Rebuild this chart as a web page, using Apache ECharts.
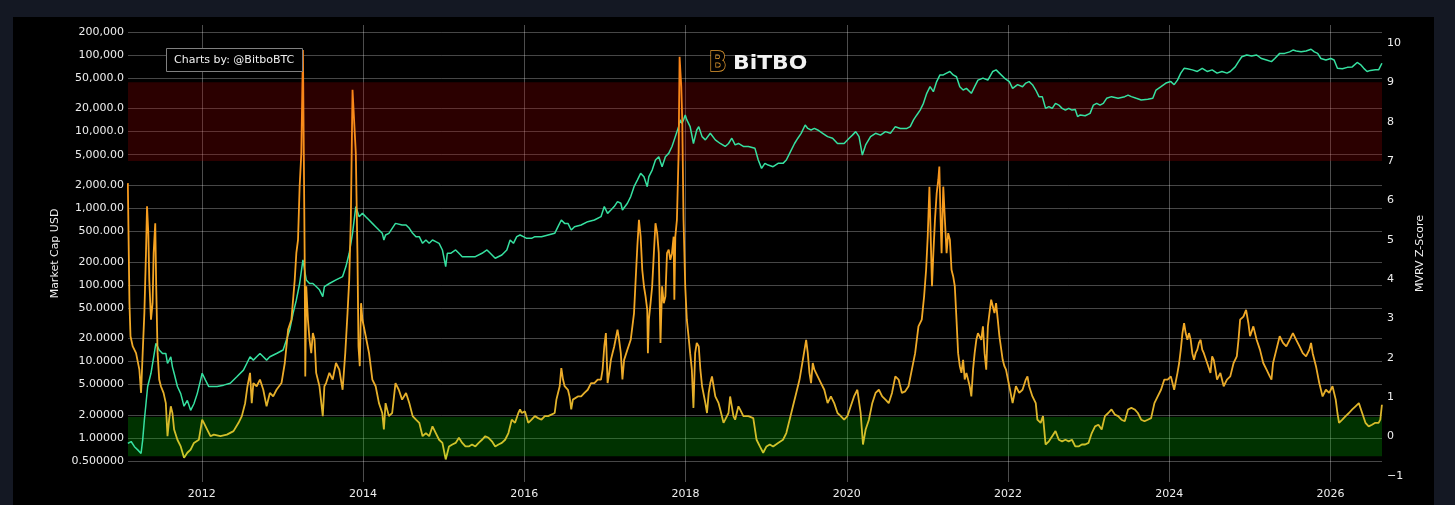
<!DOCTYPE html>
<html><head><meta charset="utf-8">
<script src="https://cdn.jsdelivr.net/npm/echarts@6/dist/echarts.min.js"></script>
<style>
html,body{margin:0;padding:0;background:#141823;width:1455px;height:505px;overflow:hidden}
#paper{position:absolute;left:13px;top:17px;width:1421px;height:488px;background:#000}
</style>
</head><body><div id="paper"></div>
<script>
// ---- axis ticks ----
const yearTicks = [2012, 2014, 2016, 2018, 2020, 2022, 2024, 2026];
const priceTicks = [0.5, 1, 2, 5, 10, 20, 50, 100, 200, 500, 1000, 2000, 5000, 10000, 20000, 50000, 100000, 200000];
const zTicks = [-1, 0, 1, 2, 3, 4, 5, 6, 7, 8, 9, 10];
// ---- zones (MVRV Z-Score) ----
const redZone = [7, 9];
const greenZone = [-0.5, 0.5];

// ---- BTC price, USD (decimal year, value) ----
const priceUsd = [
[2011.082,0.85],[2011.123,0.90],[2011.164,0.77],[2011.205,0.70],[2011.246,0.63],[2011.266,0.94],[2011.287,1.72],[2011.307,2.8],[2011.328,4.7],[2011.369,7.0],[2011.410,12.7],[2011.430,17.2],[2011.451,15.6],[2011.471,14.1],[2011.512,12.7],[2011.553,12.7],[2011.574,9.4],[2011.594,9.4],[2011.615,11.5],[2011.635,8.5],[2011.656,7.0],[2011.697,4.7],[2011.738,3.8],[2011.779,2.6],[2011.820,3.1],[2011.861,2.3],[2011.902,2.8],[2011.943,3.8],[2011.984,5.7],[2012.004,7.0],[2012.045,5.7],[2012.086,4.7],[2012.127,4.7],[2012.189,4.7],[2012.270,4.9],[2012.352,5.2],[2012.434,6.3],[2012.516,7.7],[2012.557,9.4],[2012.598,11.5],[2012.639,10.4],[2012.680,11.5],[2012.721,12.7],[2012.762,11.5],[2012.803,10.4],[2012.844,11.5],[2012.926,12.7],[2013.008,14.1],[2013.049,19.0],[2013.090,25.7],[2013.131,42],[2013.172,63],[2013.213,104],[2013.254,211],[2013.295,116],[2013.336,104],[2013.377,104],[2013.418,95],[2013.459,86],[2013.500,70],[2013.520,95],[2013.582,104],[2013.664,116],[2013.746,128],[2013.787,173],[2013.828,258],[2013.869,470],[2013.910,1050],[2013.951,775],[2013.992,857],[2014.033,775],[2014.074,701],[2014.115,634],[2014.156,574],[2014.197,519],[2014.238,470],[2014.258,385],[2014.279,447],[2014.320,470],[2014.361,546],[2014.402,634],[2014.484,604],
[2014.533,604],[2014.574,546],[2014.615,470],[2014.656,425],[2014.697,425],[2014.738,348],[2014.779,385],[2014.820,348],[2014.861,385],[2014.902,366],[2014.943,348],[2014.984,285],[2015.025,173],[2015.045,258],[2015.086,258],[2015.148,285],[2015.189,258],[2015.230,233],[2015.311,233],[2015.393,233],[2015.475,258],[2015.537,285],[2015.578,258],[2015.639,222],[2015.721,245],[2015.783,285],[2015.824,385],[2015.865,348],[2015.906,425],[2015.947,447],[2015.988,425],[2016.029,404],[2016.090,404],[2016.131,425],[2016.213,425],[2016.295,447],[2016.377,470],[2016.418,574],[2016.459,701],[2016.500,634],[2016.541,634],[2016.582,519],[2016.623,574],[2016.705,604],[2016.787,667],[2016.869,701],[2016.951,775],[2016.992,1050],[2017.033,857],[2017.074,948],[2017.115,1050],[2017.156,1220],[2017.197,1160],[2017.217,948],[2017.279,1160],[2017.320,1420],[2017.361,1910],[2017.402,2330],[2017.443,2850],[2017.484,2580],[2017.525,1910],[2017.545,2580],[2017.586,3150],[2017.627,4260],[2017.668,4700],[2017.709,3480],[2017.750,4700],[2017.791,5200],[2017.832,6400],[2017.873,8600],[2017.914,11600],[2017.934,14200],[2017.955,12800],[2017.975,14200],[2017.996,16500],[2018.016,14200],[2018.057,11600],[2018.098,7000],[2018.139,10500],
[2018.164,11600],[2018.205,8600],[2018.246,7800],[2018.307,9500],[2018.369,7800],[2018.430,7000],[2018.492,6400],[2018.533,7000],[2018.574,8200],[2018.615,6700],[2018.656,7000],[2018.717,6400],[2018.779,6400],[2018.861,6050],[2018.902,4260],[2018.943,3310],[2018.984,3850],[2019.025,3660],[2019.086,3480],[2019.148,3850],[2019.209,3850],[2019.250,4260],[2019.291,5200],[2019.352,7000],[2019.393,8200],[2019.434,9500],[2019.484,12200],[2019.516,11000],[2019.557,10500],[2019.598,11000],[2019.639,10500],[2019.701,9500],[2019.762,8600],[2019.824,8200],[2019.885,7000],[2019.967,7000],[2020.029,8200],[2020.070,9000],[2020.111,10000],[2020.152,8600],[2020.193,4950],[2020.234,6700],[2020.295,8600],[2020.357,9500],[2020.418,9000],[2020.480,10000],[2020.541,9500],[2020.602,11600],[2020.664,11000],[2020.746,11000],[2020.787,11600],[2020.828,14200],[2020.869,16500],[2020.910,19100],[2020.951,23400],[2020.992,31600],[2021.033,38600],[2021.074,33200],[2021.115,45000],[2021.156,55000],[2021.197,55000],[2021.238,58000],[2021.279,61000],[2021.320,55000],[2021.361,52000],[2021.402,38600],[2021.443,34900],[2021.484,36700],[2021.545,31600],[2021.586,38600],[2021.627,47000],[2021.689,50000],[2021.750,47000],[2021.811,61000],[2021.852,64000],[2021.893,58000],[2021.955,50000],[2022.016,45000],[2022.057,36700],[2022.119,41000],[2022.180,38600],
[2022.221,43000],[2022.262,45000],[2022.303,41000],[2022.344,34900],[2022.384,28600],[2022.425,28600],[2022.466,20100],[2022.507,21200],[2022.548,20100],[2022.589,23400],[2022.630,22200],[2022.671,20100],[2022.712,19100],[2022.753,20100],[2022.793,19100],[2022.834,19500],[2022.863,15700],[2022.896,16500],[2022.957,16100],[2023.018,17300],[2023.059,22200],[2023.100,23400],[2023.141,22200],[2023.182,23400],[2023.223,27200],[2023.284,28600],[2023.366,27200],[2023.448,28600],[2023.489,30000],[2023.530,28600],[2023.591,27200],[2023.652,25900],[2023.734,26400],[2023.796,27200],[2023.836,34900],[2023.898,38600],[2023.959,43000],[2024.020,45000],[2024.061,41000],[2024.102,47000],[2024.143,58000],[2024.184,67000],[2024.225,66000],[2024.286,64000],[2024.348,61000],[2024.409,67000],[2024.470,61000],[2024.532,64000],[2024.593,58000],[2024.654,61000],[2024.716,58000],[2024.757,61000],[2024.818,70000],[2024.859,82000],[2024.900,95000],[2024.961,100000],[2025.022,97000],[2025.084,100000],[2025.145,90000],[2025.207,86000],[2025.268,82000],[2025.309,90000],[2025.370,105000],[2025.431,105000],[2025.493,110000],[2025.534,116000],[2025.575,113000],[2025.636,110000],[2025.697,113000],[2025.759,119000],[2025.800,110000],[2025.841,105000],[2025.881,90000],[2025.943,86000],[2026.004,90000],[2026.045,86000],[2026.086,67000],[2026.147,66000],[2026.209,69000],[2026.270,70000],[2026.331,80000],[2026.372,75000],[2026.413,67000],[2026.454,61000],[2026.495,63000],[2026.556,64000],[2026.597,64000],[2026.638,78000]
];

// ---- MVRV Z-Score (decimal year, value) ----
const mvrvZ = [
[2011.082,6.44],[2011.102,3.39],[2011.115,2.55],[2011.143,2.29],[2011.184,2.12],[2011.225,1.70],[2011.246,1.11],[2011.266,2.12],[2011.287,3.14],[2011.307,4.66],[2011.320,5.85],[2011.336,5.17],[2011.348,3.98],[2011.369,2.97],[2011.389,3.39],[2011.402,4.66],[2011.422,5.42],[2011.434,3.82],[2011.451,2.12],[2011.471,1.45],[2011.492,1.28],[2011.525,1.11],[2011.553,0.85],[2011.574,0.01],[2011.594,0.43],[2011.615,0.77],[2011.635,0.60],[2011.656,0.18],[2011.697,-0.08],[2011.738,-0.25],[2011.779,-0.54],[2011.820,-0.41],[2011.861,-0.33],[2011.902,-0.16],[2011.963,-0.08],[2012.004,0.43],[2012.025,0.35],[2012.066,0.18],[2012.107,0.01],[2012.148,0.05],[2012.230,0.01],[2012.311,0.05],[2012.393,0.14],[2012.455,0.35],[2012.496,0.52],[2012.537,0.85],[2012.566,1.28],[2012.598,1.62],[2012.619,0.85],[2012.639,1.36],[2012.680,1.28],[2012.721,1.45],[2012.762,1.19],[2012.803,0.77],[2012.844,1.11],[2012.885,1.02],[2012.926,1.19],[2012.988,1.36],[2013.029,1.87],[2013.070,2.72],[2013.111,2.97],[2013.152,3.98],[2013.172,4.66],[2013.193,5.00],[2013.213,6.35],[2013.234,7.20],[2013.254,9.82],[2013.275,4.66],[2013.283,1.53],[2013.295,3.82],[2013.316,2.97],[2013.336,2.46],[2013.357,2.12],[2013.377,2.63],[2013.398,2.46],[2013.418,1.62],[2013.459,1.28],[2013.500,0.52],[2013.520,1.28],[2013.541,1.36],[2013.582,1.62],[2013.623,1.45],[2013.664,1.87],[2013.705,1.70],[2013.746,1.19],[2013.779,2.12],[2013.807,3.14],[2013.828,3.98],[2013.848,5.51],[2013.869,8.81],[2013.889,8.85],[2013.910,7.20],[2013.930,4.66],[2013.943,2.29],[2013.959,1.79],[2013.975,3.39],[2013.992,2.97],[2014.033,2.55],[2014.074,2.12],[2014.115,1.45],[2014.156,1.28],[2014.197,0.85],[2014.238,0.60],[2014.258,0.18],[2014.279,0.85],[2014.320,0.52],[2014.361,0.60],[2014.402,1.36],[2014.443,1.19],[2014.484,0.94],
[2014.533,1.11],[2014.574,0.85],[2014.615,0.52],[2014.656,0.43],[2014.697,0.35],[2014.738,0.01],[2014.779,0.09],[2014.820,0.01],[2014.861,0.26],[2014.902,0.09],[2014.943,-0.08],[2014.984,-0.16],[2015.025,-0.58],[2015.066,-0.25],[2015.107,-0.20],[2015.148,-0.16],[2015.189,-0.03],[2015.230,-0.16],[2015.270,-0.25],[2015.311,-0.25],[2015.352,-0.20],[2015.393,-0.25],[2015.434,-0.16],[2015.475,-0.08],[2015.516,0.01],[2015.557,-0.03],[2015.598,-0.12],[2015.639,-0.25],[2015.680,-0.20],[2015.721,-0.16],[2015.762,-0.08],[2015.803,0.09],[2015.844,0.43],[2015.885,0.35],[2015.926,0.60],[2015.947,0.69],[2015.967,0.60],[2016.008,0.64],[2016.049,0.35],[2016.090,0.43],[2016.131,0.52],[2016.172,0.47],[2016.213,0.43],[2016.254,0.52],[2016.295,0.52],[2016.336,0.56],[2016.377,0.60],[2016.398,0.94],[2016.418,1.11],[2016.439,1.28],[2016.459,1.74],[2016.480,1.45],[2016.500,1.28],[2016.541,1.19],[2016.561,1.02],[2016.582,0.69],[2016.602,0.94],[2016.623,0.94],[2016.664,1.02],[2016.705,1.02],[2016.746,1.11],[2016.787,1.19],[2016.828,1.36],[2016.869,1.36],[2016.910,1.45],[2016.951,1.45],[2016.971,1.70],[2016.992,2.29],[2017.012,2.63],[2017.033,1.36],[2017.053,1.62],[2017.074,1.95],[2017.094,2.12],[2017.115,2.29],[2017.156,2.72],[2017.176,2.46],[2017.197,2.12],[2017.217,1.45],[2017.238,1.95],[2017.279,2.21],[2017.320,2.46],[2017.361,3.14],[2017.381,3.98],[2017.402,4.83],[2017.422,5.51],[2017.443,5.08],[2017.463,4.24],[2017.484,3.82],[2017.504,3.56],[2017.525,3.22],[2017.533,2.12],[2017.545,2.97],[2017.566,3.39],[2017.586,3.82],[2017.607,4.66],[2017.627,5.42],[2017.648,5.17],[2017.668,4.66],[2017.689,2.38],[2017.709,3.82],[2017.730,3.39],[2017.750,3.56],[2017.770,4.66],[2017.791,4.75],[2017.811,4.49],[2017.832,4.66],[2017.852,5.08],[2017.861,3.48],[2017.873,5.08],[2017.893,5.51],[2017.914,7.20],[2017.926,9.65],[2017.947,8.89],[2017.959,8.05],[2017.975,5.51],[2017.996,3.82],[2018.016,2.97],[2018.037,2.55],[2018.057,2.12],[2018.078,1.70],[2018.098,0.73],[2018.119,2.12],[2018.139,2.38],
[2018.164,2.29],[2018.184,1.70],[2018.205,1.28],[2018.246,0.85],[2018.266,0.60],[2018.287,1.11],[2018.307,1.36],[2018.328,1.53],[2018.348,1.28],[2018.369,1.02],[2018.410,0.85],[2018.430,0.69],[2018.471,0.35],[2018.492,0.43],[2018.533,0.60],[2018.553,1.02],[2018.574,0.77],[2018.594,0.52],[2018.615,0.43],[2018.635,0.60],[2018.656,0.77],[2018.676,0.69],[2018.717,0.52],[2018.779,0.52],[2018.840,0.47],[2018.861,0.43],[2018.881,-0.08],[2018.922,-0.25],[2018.963,-0.41],[2019.004,-0.25],[2019.045,-0.20],[2019.086,-0.25],[2019.148,-0.16],[2019.209,-0.08],[2019.250,0.09],[2019.291,0.43],[2019.332,0.77],[2019.373,1.11],[2019.414,1.45],[2019.455,1.95],[2019.496,2.46],[2019.516,2.12],[2019.537,1.62],[2019.557,1.36],[2019.578,1.87],[2019.598,1.70],[2019.639,1.53],[2019.680,1.36],[2019.721,1.19],[2019.762,0.85],[2019.803,1.02],[2019.844,0.85],[2019.885,0.60],[2019.926,0.52],[2019.967,0.43],[2020.008,0.52],[2020.049,0.77],[2020.090,1.02],[2020.131,1.19],[2020.172,0.60],[2020.201,-0.20],[2020.234,0.18],[2020.275,0.43],[2020.316,0.85],[2020.357,1.11],[2020.398,1.19],[2020.439,1.02],[2020.480,0.94],[2020.520,0.85],[2020.561,1.11],[2020.602,1.53],[2020.643,1.45],[2020.684,1.11],[2020.725,1.15],[2020.766,1.28],[2020.807,1.70],[2020.848,2.12],[2020.889,2.80],[2020.930,2.97],[2020.959,3.56],[2020.984,4.24],[2021.004,5.08],[2021.025,6.35],[2021.041,5.08],[2021.057,3.82],[2021.074,4.66],[2021.094,5.51],[2021.115,6.18],[2021.135,6.52],[2021.148,6.86],[2021.164,5.51],[2021.176,4.66],[2021.197,6.35],[2021.217,5.51],[2021.238,4.66],[2021.258,5.17],[2021.279,5.00],[2021.299,4.24],[2021.320,4.07],[2021.340,3.82],[2021.361,2.97],[2021.381,2.12],[2021.402,1.79],[2021.422,1.62],[2021.443,1.95],[2021.463,1.45],[2021.484,1.62],[2021.525,1.28],[2021.545,1.02],[2021.566,1.70],[2021.586,2.12],[2021.607,2.46],[2021.627,2.63],[2021.668,2.46],[2021.689,2.80],[2021.709,2.12],[2021.730,1.70],[2021.750,2.80],[2021.770,3.14],[2021.791,3.48],[2021.811,3.31],[2021.832,3.14],[2021.852,3.39],[2021.873,2.97],[2021.893,2.55],[2021.934,1.95],[2021.955,1.79],[2021.975,1.70],[2022.016,1.28],[2022.057,0.85],[2022.098,1.28],[2022.139,1.11],[2022.180,1.19],
[2022.221,1.45],[2022.241,1.53],[2022.262,1.28],[2022.303,1.02],[2022.344,0.85],[2022.364,0.43],[2022.405,0.35],[2022.434,0.52],[2022.466,-0.20],[2022.507,-0.12],[2022.548,0.01],[2022.589,0.14],[2022.630,-0.08],[2022.671,-0.12],[2022.712,-0.08],[2022.753,-0.12],[2022.793,-0.08],[2022.834,-0.25],[2022.875,-0.25],[2022.916,-0.20],[2022.957,-0.20],[2022.998,-0.16],[2023.039,0.09],[2023.080,0.26],[2023.121,0.30],[2023.162,0.18],[2023.202,0.52],[2023.243,0.60],[2023.284,0.69],[2023.325,0.56],[2023.366,0.52],[2023.407,0.43],[2023.448,0.39],[2023.489,0.69],[2023.530,0.73],[2023.571,0.69],[2023.611,0.60],[2023.652,0.43],[2023.693,0.39],[2023.734,0.43],[2023.775,0.47],[2023.816,0.85],[2023.857,1.02],[2023.898,1.19],[2023.939,1.45],[2023.980,1.45],[2024.020,1.53],[2024.061,1.19],[2024.102,1.62],[2024.123,1.87],[2024.143,2.21],[2024.164,2.63],[2024.184,2.88],[2024.204,2.63],[2024.225,2.46],[2024.245,2.63],[2024.266,2.46],[2024.286,2.12],[2024.307,1.95],[2024.327,2.12],[2024.348,2.21],[2024.368,2.38],[2024.389,2.46],[2024.409,2.21],[2024.429,2.12],[2024.470,1.87],[2024.511,1.62],[2024.532,2.04],[2024.552,1.95],[2024.573,1.70],[2024.593,1.45],[2024.634,1.62],[2024.675,1.28],[2024.716,1.45],[2024.757,1.53],[2024.798,1.87],[2024.838,2.04],[2024.859,2.46],[2024.879,2.97],[2024.920,3.05],[2024.953,3.22],[2024.982,2.88],[2025.002,2.55],[2025.043,2.80],[2025.084,2.46],[2025.125,2.21],[2025.166,1.87],[2025.207,1.70],[2025.247,1.53],[2025.268,1.45],[2025.288,1.87],[2025.329,2.21],[2025.370,2.55],[2025.411,2.38],[2025.452,2.29],[2025.493,2.46],[2025.534,2.63],[2025.575,2.46],[2025.616,2.29],[2025.656,2.12],[2025.697,2.04],[2025.738,2.21],[2025.759,2.38],[2025.779,2.12],[2025.820,1.79],[2025.861,1.36],[2025.902,1.02],[2025.943,1.19],[2025.984,1.11],[2026.025,1.28],[2026.065,0.94],[2026.086,0.60],[2026.106,0.35],[2026.147,0.43],[2026.188,0.52],[2026.229,0.60],[2026.270,0.69],[2026.311,0.77],[2026.352,0.85],[2026.393,0.60],[2026.434,0.35],[2026.474,0.26],[2026.515,0.30],[2026.556,0.35],[2026.597,0.35],[2026.618,0.43],[2026.638,0.81]
];

const FONT = '"DejaVu Sans", Verdana, sans-serif';
function fmtPrice(v) {
  const s = Number(v).toPrecision(6);
  const parts = s.split('.');
  const i = parts[0].replace(/\B(?=(\d{3})+(?!\d))/g, ',');
  return parts.length > 1 ? i + '.' + parts[1] : i;
}
function fmtZ(v) { return v < 0 ? '\u2212' + Math.abs(v) : String(v); }

const chart = echarts.init(document.getElementById('paper'));
chart.setOption({
  backgroundColor: '#000',
  animation: false,
  textStyle: { fontFamily: FONT },
  title: {
    text: 'Charts by: @BitboBTC', left: 153, top: 31,
    padding: [6, 8], borderColor: '#808080', borderWidth: 1, backgroundColor: '#000',
    textStyle: { color: '#f0f0f0', fontSize: 11, fontWeight: 'normal', fontFamily: FONT, lineHeight: 12 }
  },
  graphic: [
    { type: 'text', x: 696, y: 47, z: 10, scaleX: 0.85,
      style: { text: 'B', font: 'bold 27px "DejaVu Sans"', fill: '#000', stroke: '#e39b30', lineWidth: 1.6, verticalAlign: 'middle' } },
    { type: 'text', x: 720, y: 47, z: 10, scaleX: 1.15,
      style: { text: 'BiTBO', font: 'bold 19px "DejaVu Sans"', fill: '#f2f2f2', verticalAlign: 'middle' } }
  ],
  grid: { left: 115, right: 41, top: 8, bottom: 23 },
  xAxis: {
    type: 'value', min: 2011.084, max: 2026.639,
    axisLine: { show: false },
    axisTick: { show: false, customValues: yearTicks },
    axisLabel: { customValues: yearTicks, color: '#eee', fontSize: 11, margin: 7, formatter: v => String(v) },
    splitLine: { show: true, lineStyle: { color: 'rgba(255,255,255,0.3)', width: 1 } }
  },
  yAxis: [
    {
      type: 'log', logBase: 10, min: 0.2666, max: 246500, position: 'left',
      name: 'Market Cap USD', nameLocation: 'middle', nameGap: 61, nameRotate: 90,
      nameTextStyle: { color: '#eee', fontSize: 11 },
      axisLine: { show: false },
      axisTick: { show: false, customValues: priceTicks },
      axisLabel: { customValues: priceTicks, formatter: fmtPrice, color: '#eee', fontSize: 11, margin: 4 },
      splitLine: { show: true, lineStyle: { color: 'rgba(255,255,255,0.28)', width: 1 } }
    },
    {
      type: 'value', min: -1.153, max: 10.457, position: 'right',
      name: 'MVRV Z-Score', nameLocation: 'middle', nameGap: 33, nameRotate: 90,
      nameTextStyle: { color: '#eee', fontSize: 11 },
      axisLine: { show: false },
      axisTick: { show: false, customValues: zTicks },
      axisLabel: { customValues: zTicks, formatter: fmtZ, color: '#eee', fontSize: 11, margin: 5 },
      splitLine: { show: false }
    }
  ],
  visualMap: {
    type: 'continuous', show: false, seriesIndex: 2, dimension: 1, min: -0.5, max: 9,
    inRange: { color: ['#c8c82a', '#eaaa2a', '#f3a825', '#f5a020', '#f7921c', '#fa8418'] }
  },
  series: [
    {
      type: 'line', name: 'zones', yAxisIndex: 1, data: [], silent: true,
      markArea: {
        silent: true,
        data: [
          [{ yAxis: redZone[0], itemStyle: { color: 'rgba(160,0,0,0.27)' } }, { yAxis: redZone[1] }],
          [{ yAxis: greenZone[0], itemStyle: { color: 'rgba(0,180,0,0.28)' } }, { yAxis: greenZone[1] }]
        ]
      }
    },
    {
      type: 'line', name: 'Price', yAxisIndex: 0, data: priceUsd, showSymbol: false, z: 3,
      lineStyle: { color: '#36e0a0', width: 1.5 }, itemStyle: { color: '#36e0a0' }
    },
    {
      type: 'line', name: 'MVRV Z-Score', yAxisIndex: 1, data: mvrvZ, showSymbol: false, z: 4,
      lineStyle: { width: 1.8 }
    }
  ]
});
</script>
</body></html>
